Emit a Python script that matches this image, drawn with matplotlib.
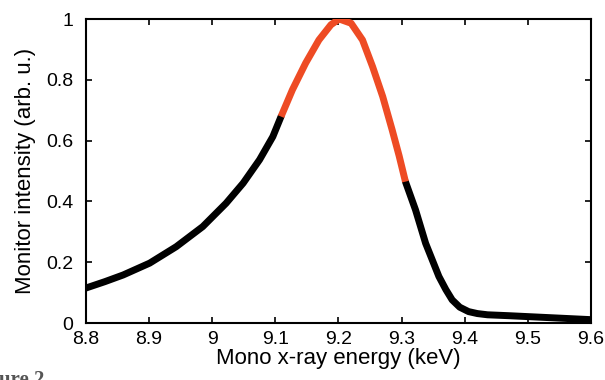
import matplotlib.pyplot as plt

plt.rcParams['font.family'] = ['Liberation Sans', 'DejaVu Sans']

# monitor intensity vs mono energy
energy_low = [8.800, 8.830, 8.859, 8.901, 8.943, 8.985, 9.022, 9.049, 9.075, 9.096, 9.109]
inten_low = [0.115, 0.136, 0.158, 0.197, 0.251, 0.317, 0.394, 0.460, 0.537, 0.613, 0.679]

energy_peak = [9.109, 9.127, 9.148, 9.169, 9.188, 9.201, 9.220, 9.238, 9.254, 9.270, 9.285, 9.296, 9.306]
inten_peak = [0.679, 0.767, 0.855, 0.931, 0.981, 1.000, 0.986, 0.931, 0.843, 0.745, 0.635, 0.550, 0.465]

energy_high = [9.306, 9.322, 9.338, 9.359, 9.370, 9.380, 9.392, 9.406, 9.420, 9.436, 9.470,
               9.500, 9.550, 9.600]
inten_high = [0.465, 0.372, 0.262, 0.153, 0.110, 0.076, 0.052, 0.0375, 0.031, 0.027, 0.024,
              0.021, 0.016, 0.011]

fig = plt.figure(figsize=(6.05, 3.8), dpi=100)
ax = fig.add_axes([0.142, 0.15, 0.835, 0.80])

lw = 5
ax.plot(energy_low, inten_low, color='black', linewidth=lw, solid_capstyle='round',
        solid_joinstyle='round', zorder=3)
ax.plot(energy_high, inten_high, color='black', linewidth=lw, solid_capstyle='round',
        solid_joinstyle='round', zorder=3)
ax.plot(energy_peak, inten_peak, color='#EE4B24', linewidth=lw, solid_capstyle='butt',
        solid_joinstyle='round', zorder=4)

ax.set_xlim(8.8, 9.6)
ax.set_ylim(0, 1)
ax.set_xticks([8.8, 8.9, 9.0, 9.1, 9.2, 9.3, 9.4, 9.5, 9.6])
ax.set_xticklabels(['8.8', '8.9', '9', '9.1', '9.2', '9.3', '9.4', '9.5', '9.6'])
ax.set_yticks([0, 0.2, 0.4, 0.6, 0.8, 1.0])
ax.set_yticklabels(['0', '0.2', '0.4', '0.6', '0.8', '1'])
ax.tick_params(direction='in', top=True, right=True, length=4, width=1.2, labelsize=14)
ax.tick_params(axis='x', pad=6)
ax.tick_params(axis='y', pad=9)
for s in ax.spines.values():
    s.set_linewidth(1.5)

ax.set_xlabel('Mono x-ray energy (keV)', fontsize=16, labelpad=0)
ax.set_ylabel('Monitor intensity (arb. u.)', fontsize=16, labelpad=7)

fig.text(-0.05, -0.025, 'Figure 2', fontsize=15, fontweight='bold', color='#555555',
         family=['Liberation Serif', 'DejaVu Serif'], ha='left', va='bottom')

fig.savefig('out.png', dpi=100)
